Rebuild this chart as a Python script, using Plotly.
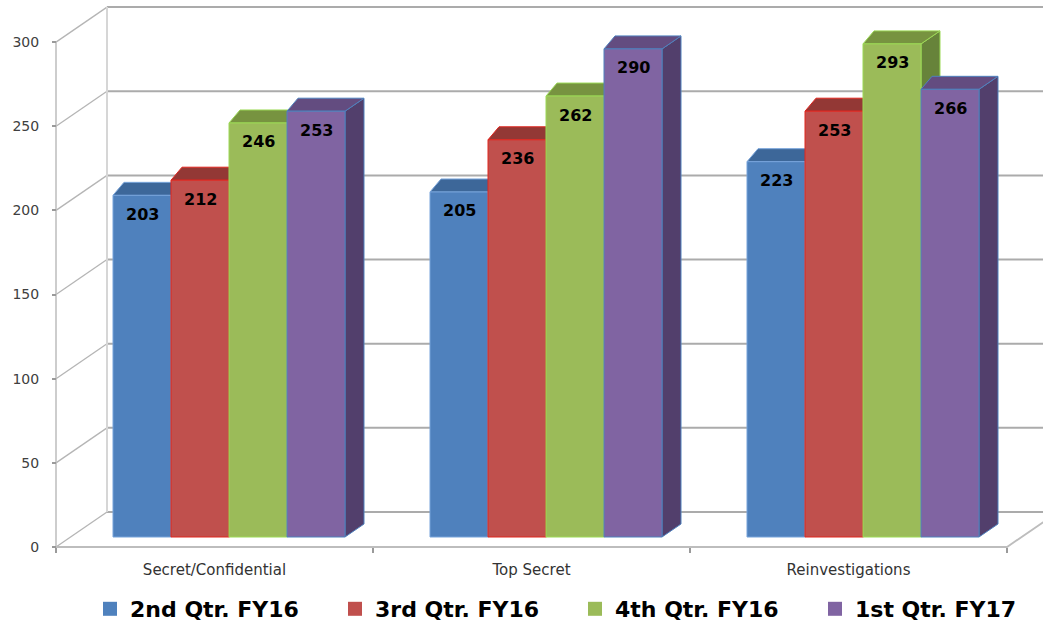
import plotly.graph_objects as go

# ---- data -------------------------------------------------------------
categories = ["Secret/Confidential", "Top Secret", "Reinvestigations"]
series_names = ["2nd Qtr. FY16", "3rd Qtr. FY16", "4th Qtr. FY16", "1st Qtr. FY17"]
q2_fy16 = [203, 205, 223]
q3_fy16 = [212, 236, 253]
q4_fy16 = [246, 262, 293]
q1_fy17 = [253, 290, 266]
y_ticks = [0, 50, 100, 150, 200, 250, 300]

series_values = [q2_fy16, q3_fy16, q4_fy16, q1_fy17]

# ---- styling ----------------------------------------------------------
front_colors = ["#4F81BD", "#C0504D", "#9BBB59", "#8064A2"]
top_colors = ["#3D6799", "#933835", "#779340", "#634C80"]
side_colors = ["#375E8C", "#823230", "#67833A", "#523F6C"]
edge_colors = ["#77A3DA", "#E0261F", "#9CD956", "#4F81BD"]

W, H = 1043, 630
PX_PER_CAT = 317.0      # horizontal pixels per category on the front plane
PX_PER_VAL = 1.683      # vertical pixels per value unit
X0_PX = 214.5           # pixel x of the first category centre (front plane)
Y0_PX = 547.0           # pixel y of value 0 (front plane)

x_range = [-X0_PX / PX_PER_CAT, (W - X0_PX) / PX_PER_CAT]
y_range = [(Y0_PX - H) / PX_PER_VAL, Y0_PX / PX_PER_VAL]


def dx(px):
    return px / PX_PER_CAT


def dv(px):
    return px / PX_PER_VAL


# depth geometry (pixels): bar plane sits behind the front plane,
# the back wall sits behind the bars
BAR_SHIFT = (14.5, 10.0)
WALL_SHIFT = (51.0, 35.0)
BAR_DEPTH_L, BAR_DEPTH_R, BAR_DEPTH_UP = 11.0, 19.0, 13.0
BAR_W = 58.0 / PX_PER_CAT
N_SER = len(series_values)

# legend entry text start (pixels) for each series
LEGEND_TEXT_X = [128, 373, 613, 853]

fig = go.Figure()

# ---- walls and gridlines ---------------------------------------------
left = -0.5
right = len(categories) - 0.5
wx, wv = dx(WALL_SHIFT[0]), dv(WALL_SHIFT[1])

diag_x, diag_y = [], []
back_x, back_y = [], []
for t in y_ticks:
    diag_x += [left, left + wx, None]
    diag_y += [t, t + wv, None]
    back_x += [left + wx, right + wx + 0.2, None]
    back_y += [t + wv, t + wv, None]

fig.add_trace(go.Scatter(x=back_x, y=back_y, mode="lines",
                         line=dict(color="#ABABAB", width=2),
                         hoverinfo="skip", showlegend=False))
fig.add_trace(go.Scatter(x=diag_x, y=diag_y, mode="lines",
                         line=dict(color="#B5B5B5", width=1.3),
                         hoverinfo="skip", showlegend=False))
# back corner of the left wall
fig.add_trace(go.Scatter(x=[left + wx, left + wx], y=[y_ticks[0] + wv, y_ticks[-1] + wv],
                         mode="lines", line=dict(color="#D6D6D6", width=2),
                         hoverinfo="skip", showlegend=False))
# front value axis line, floor front edge and floor right edge
fig.add_trace(go.Scatter(x=[left, left], y=[y_ticks[0], y_ticks[-1]], mode="lines",
                         line=dict(color="#BDBDBD", width=1.5),
                         hoverinfo="skip", showlegend=False))
fig.add_trace(go.Scatter(x=[left, right, right + wx], y=[0, 0, wv], mode="lines",
                         line=dict(color="#BDBDBD", width=1.8),
                         hoverinfo="skip", showlegend=False))

# ---- 3-D columns --------------------------------------------------------
bx, bv = dx(BAR_SHIFT[0]), dv(BAR_SHIFT[1])
dl, dr, du = dx(BAR_DEPTH_L), dx(BAR_DEPTH_R), dv(BAR_DEPTH_UP)
annotations = []

for s, vals in enumerate(series_values):
    for c, v in enumerate(vals):
        x_l = c + bx - N_SER * BAR_W / 2 + s * BAR_W
        x_r = x_l + BAR_W
        b = bv
        t = v + bv
        common = dict(mode="lines", fill="toself", hoverinfo="skip",
                      showlegend=False, line=dict(color=edge_colors[s], width=1))
        # right side face
        fig.add_trace(go.Scatter(
            x=[x_r, x_r, x_r + dr, x_r + dr, x_r],
            y=[b, t, t + du, b + du, b],
            fillcolor=side_colors[s], **common))
        # top face
        fig.add_trace(go.Scatter(
            x=[x_l, x_r, x_r + dr, x_l + dl, x_l],
            y=[t, t, t + du, t + du, t],
            fillcolor=top_colors[s], **common))
        # front face
        fig.add_trace(go.Scatter(
            x=[x_l, x_r, x_r, x_l, x_l],
            y=[b, b, t, t, b],
            fillcolor=front_colors[s], **common))
        annotations.append(dict(
            x=(x_l + x_r) / 2, y=t, xref="x", yref="y", yshift=-19,
            text=str(v), showarrow=False,
            font=dict(family="DejaVu Sans", size=16, color="#000000", weight="bold")))

# legend entries, one small legend per series
legend_layout = {}
for s, name in enumerate(series_names):
    key = "legend" if s == 0 else f"legend{s + 1}"
    fig.add_trace(go.Scatter(
        x=[None], y=[None], mode="markers", name=name, legend=key,
        marker=dict(symbol="square", size=14, color=front_colors[s],
                    line=dict(width=0))))
    legend_layout[key] = dict(
        orientation="h", x=(LEGEND_TEXT_X[s] - 38) / W, xanchor="left",
        y=0, yanchor="bottom",
        font=dict(family="DejaVu Sans", size=22, color="#000000", weight="bold"),
        bgcolor="rgba(0,0,0,0)")

fig.update_layout(
    width=W, height=H, autosize=False,
    margin=dict(l=0, r=0, t=0, b=0),
    paper_bgcolor="#FFFFFF", plot_bgcolor="#FFFFFF",
    annotations=annotations,
    showlegend=True,
    xaxis=dict(range=x_range, domain=[0, 1], anchor="free",
               position=(H - Y0_PX) / H,
               tickmode="array", tickvals=list(range(len(categories))),
               ticktext=categories, ticks="", showline=False,
               showgrid=False, zeroline=False, automargin=False,
               ticklabelstandoff=12,
               tickfont=dict(family="DejaVu Sans", size=15, color="#333333"),
               minor=dict(tickmode="array",
                          tickvals=[i - 0.5 for i in range(len(categories) + 1)],
                          ticks="outside", ticklen=5, tickcolor="#9A9A9A",
                          tickwidth=1.5, showgrid=False),
               fixedrange=True),
    yaxis=dict(range=y_range, domain=[0, 1], anchor="free",
               position=(X0_PX - 0.5 * PX_PER_CAT) / W,
               tickmode="array", tickvals=y_ticks,
               ticks="outside", ticklen=4, tickcolor="#9A9A9A", tickwidth=1.5,
               showline=False, showgrid=False, zeroline=False, automargin=False,
               ticklabelstandoff=10,
               tickfont=dict(family="DejaVu Sans", size=14, color="#404040"),
               fixedrange=True),
    **legend_layout,
)

fig.write_html("out.html", config={"displayModeBar": False})
